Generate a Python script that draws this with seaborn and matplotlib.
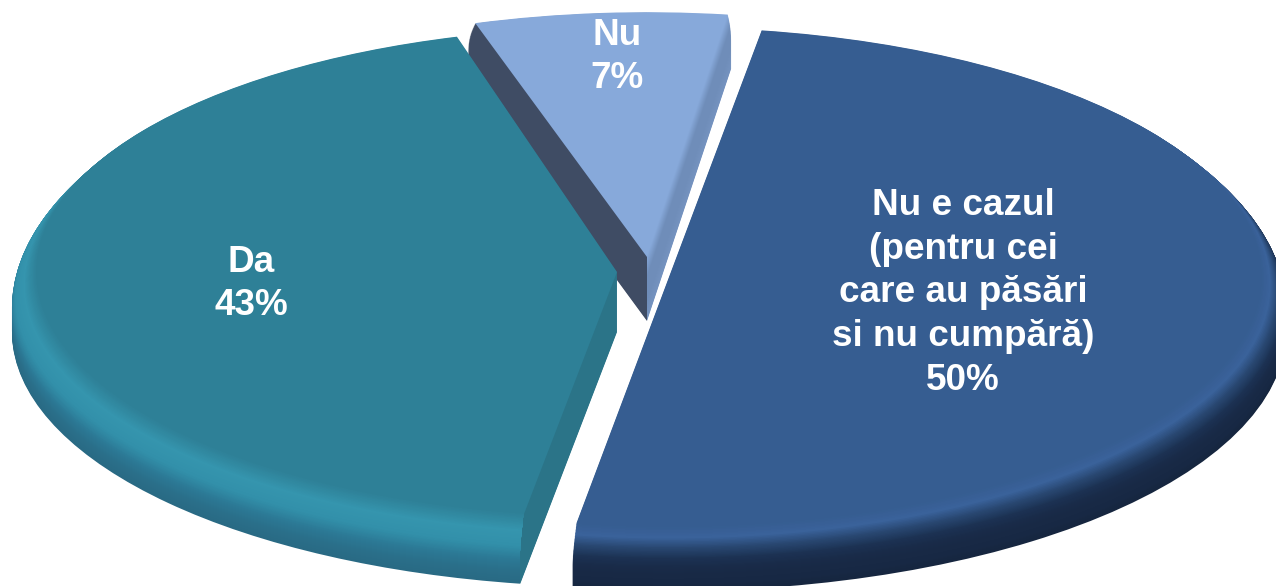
#!/usr/bin/env python3
import seaborn as sns
import matplotlib.pyplot as plt
from matplotlib.patches import Rectangle
import numpy as np

### data
categories = ['Nu', 'Da', 'Nu e cazul\n(pentru cei\ncare au păsări\nsi nu cumpără)']
percents = [7, 43, 50]

### settings
W, H = 1276, 586
A, B = 605.0, 255.0				# full radius in pixels, x and y (the pie is squashed)
FLAT = 0.96					# radius of the flat top, inside the bevel

sns.set_theme(style='white')
plt.rcParams['font.family'] = ['Liberation Sans', 'DejaVu Sans']

# one entry per slice: centre in pixels, rotation, radius, depth
centers = [(647, 257), (617, 272), (669, 277)]
starts = [82, 106, 261]
radii = [1.0, 1.0, 1.02]
depths = [64, 60, 54]
flats = ['#87a9da', '#2e8097', '#365d91']
rims = [['#87a9da', '#6f8db9', '#6f8db9', '#7593c0'],
        ['#2e8097', '#3595ae', '#3290aa', '#2c7a96', '#2a6f8a', '#296a84'],
        ['#365d91', '#3a629b', '#28466f', '#1c3253', '#192b49', '#182945', '#172844', '#16263f']]
faces = ['#3f4c64', '#2b7488', None]
label_pos = [(617, 57), (251, 284), (963, 293)]


def to_x(px):
    return (px - 642) / A


def to_y(py):
    return (272 - py) / B


fig = plt.figure(figsize=(W/100, H/100), dpi=100)
ax = fig.add_axes([0, 0, 1, 1])


def clip_x(wedge, x0, x1):
    # pie turns clipping off on its wedges
    wedge.set_clip_on(True)
    wedge.set_clip_path(Rectangle((x0, -5), x1-x0, 10, transform=ax.transData))


### draw back to front, Nu first. Every layer is one pie wedge moved down by a pixel
for i in range(3):
    frac = percents[i] / 100
    cx, cy = to_x(centers[i][0]), to_y(centers[i][1])
    r = radii[i]
    theta2 = starts[i] + frac * 360
    colors = sns.blend_palette(rims[i], depths[i] + 1)
    for d in range(depths[i], 0, -1):
        t = d / depths[i]
        rad = r * (FLAT + (1 - FLAT) * np.sin(min(t / 0.6, 1.0) * np.pi / 2))
        c = (cx, cy - d / B)
        wedges, _ = ax.pie([frac], startangle=starts[i], center=c, radius=rad, normalize=False,
                           colors=[colors[d]], wedgeprops={'linewidth': 0})
        if i == 0:
            # left cut face dark, right cut face steel
            clip_x(wedges[0], cx, 5)
            w2, _ = ax.pie([frac], startangle=starts[i], center=c, radius=rad, normalize=False,
                           colors=[faces[0]], wedgeprops={'linewidth': 0})
            clip_x(w2[0], -5, cx)
        elif i == 1:
            # x where the rim meets the straight cut face
            split = cx + rad * np.cos(np.radians(theta2))
            clip_x(wedges[0], -5, split)
            w2, _ = ax.pie([frac], startangle=starts[i], center=c, radius=rad, normalize=False,
                           colors=[faces[1]], wedgeprops={'linewidth': 0})
            clip_x(w2[0], split, 5)
    ax.pie([frac], startangle=starts[i], center=(cx, cy), radius=r * FLAT, normalize=False,
           colors=[flats[i]], wedgeprops={'linewidth': 0})

ax.set_aspect('auto')
ax.set_xlim(to_x(0), to_x(W))
ax.set_ylim(to_y(H), to_y(0))

### labels
for name, pct, (px, py) in zip(categories, percents, label_pos):
    fig.text(px / W, 1 - py / H, f'{name}\n{pct}%', color='white', fontsize=26.6, fontweight='bold',
             ha='center', va='center', linespacing=1.33, zorder=5)

fig.savefig('out.png', dpi=100)
